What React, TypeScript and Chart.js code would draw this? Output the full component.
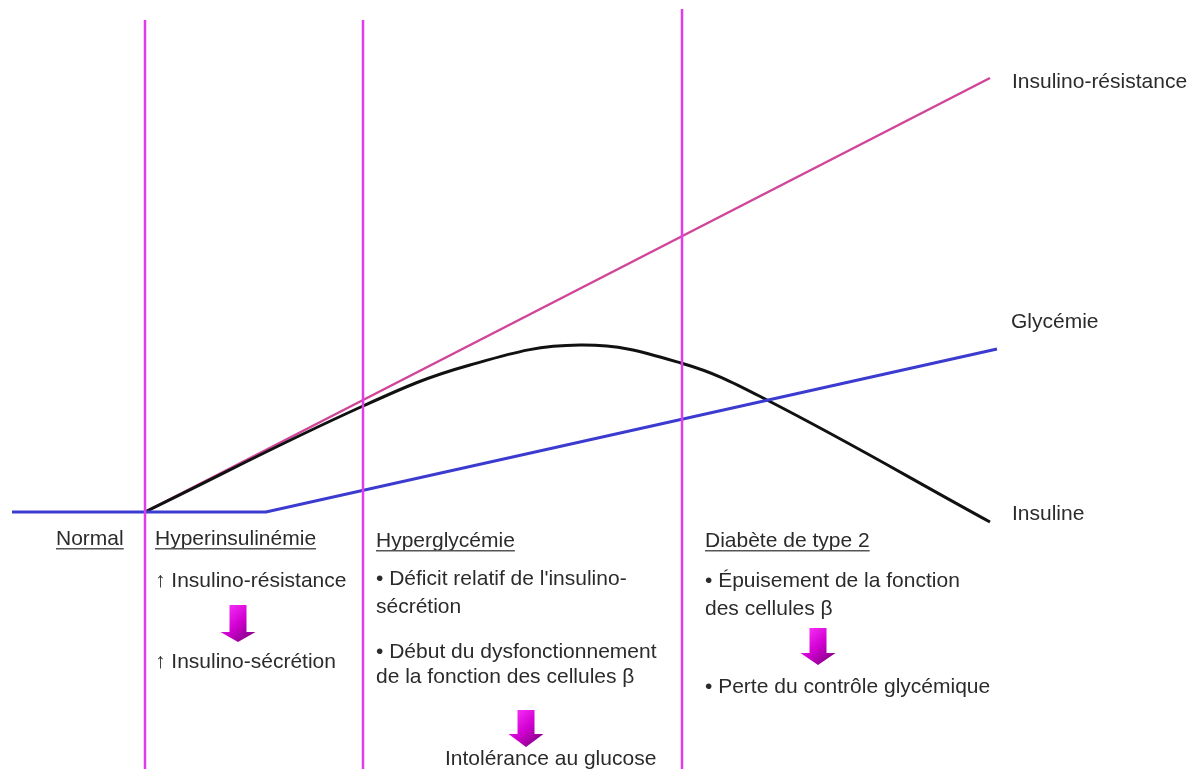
import React, { useEffect, useRef } from "react";
import { Chart, registerables } from "chart.js";

Chart.register(...registerables);

// ---- Data (time in arbitrary units, level in arbitrary units above the normal baseline) ----
const seriesLabels = ["Insulino-résistance", "Glycémie", "Insuline"];

const stageNames = ["Normal", "Hyperinsulinémie", "Hyperglycémie", "Diabète de type 2"];
const stageBoundaries = [14.5, 36.3, 68.2];
const stageBoundaryTops = [98.4, 98.4, 100.6];
const axisBottom = -51.4;

const resistanceTime = [14.5, 99];
const resistanceLevel = [0, 86.8];

const glycemieTime = [1.2, 26.6, 99.7];
const glycemieLevel = [0, 0, 32.6];

const insulineTime = [14.5, 36.3, 47, 58, 68.1, 76.7, 99];
const insulineLevel = [0, 21.2, 29.4, 33.4, 29.8, 22.4, -2];

const normalText = ["Normal"];
const hyperinsulinemieText = ["↑ Insulino-résistance", "↑ Insulino-sécrétion"];
const hyperglycemieText = [
  "• Déficit relatif de l'insulino-",
  "sécrétion",
  "• Début du dysfonctionnement",
  "de la fonction des cellules β",
  "Intolérance au glucose",
];
const diabeteText = ["• Épuisement de la fonction", "des cellules β", "• Perte du contrôle glycémique"];

// ---- Layout of annotations (pixels) ----
const FONT = "21px 'Liberation Sans', Arial, sans-serif";
const TEXT_COLOR = "#2b2b2b";

type TextItem = { text: string; x: number; y: number; underline?: boolean };

const textItems: TextItem[] = [
  { text: normalText[0], x: 56, y: 545, underline: true },
  { text: stageNames[1], x: 155, y: 545, underline: true },
  { text: hyperinsulinemieText[0], x: 155, y: 587 },
  { text: hyperinsulinemieText[1], x: 155, y: 668 },
  { text: stageNames[2], x: 376, y: 547, underline: true },
  { text: hyperglycemieText[0], x: 376, y: 585 },
  { text: hyperglycemieText[1], x: 376, y: 613 },
  { text: hyperglycemieText[2], x: 376, y: 658 },
  { text: hyperglycemieText[3], x: 376, y: 683 },
  { text: hyperglycemieText[4], x: 445, y: 765 },
  { text: stageNames[3], x: 705, y: 547, underline: true },
  { text: diabeteText[0], x: 705, y: 587 },
  { text: diabeteText[1], x: 705, y: 615 },
  { text: diabeteText[2], x: 705, y: 693 },
  { text: seriesLabels[0], x: 1012, y: 88 },
  { text: seriesLabels[1], x: 1011, y: 328 },
  { text: seriesLabels[2], x: 1012, y: 520 },
];

const arrows = [
  { cx: 238, top: 605, neck: 632, bottom: 642 },
  { cx: 526, top: 710, neck: 734, bottom: 747 },
  { cx: 818, top: 628, neck: 653, bottom: 665 },
];

const annotationPlugin = {
  id: "annotations",
  afterDatasetsDraw(chart: any) {
    const ctx: CanvasRenderingContext2D = chart.ctx;
    ctx.save();
    ctx.font = FONT;
    ctx.textBaseline = "alphabetic";
    ctx.textAlign = "left";
    for (const t of textItems) {
      ctx.fillStyle = TEXT_COLOR;
      ctx.fillText(t.text, t.x, t.y);
      if (t.underline) {
        const w = ctx.measureText(t.text).width;
        ctx.fillStyle = "#555";
        ctx.fillRect(t.x, t.y + 3, w, 1.5);
      }
    }
    for (const a of arrows) {
      const rw = 8.5;
      const hw = 17.5;
      const g = ctx.createLinearGradient(a.cx - hw, a.top, a.cx + hw, a.bottom);
      g.addColorStop(0, "#ff3cff");
      g.addColorStop(0.5, "#d200d2");
      g.addColorStop(1, "#6e006e");
      ctx.fillStyle = g;
      ctx.beginPath();
      ctx.moveTo(a.cx - rw, a.top);
      ctx.lineTo(a.cx + rw, a.top);
      ctx.lineTo(a.cx + rw, a.neck);
      ctx.lineTo(a.cx + hw, a.neck);
      ctx.lineTo(a.cx, a.bottom);
      ctx.lineTo(a.cx - hw, a.neck);
      ctx.lineTo(a.cx - rw, a.neck);
      ctx.closePath();
      ctx.fill();
    }
    ctx.restore();
  },
};

function pts(xs: number[], ys: number[]) {
  return xs.map((x, i) => ({ x, y: ys[i] }));
}

export default function App() {
  const ref = useRef<HTMLCanvasElement | null>(null);
  useEffect(() => {
    if (!ref.current) return;
    const boundaryDatasets = stageBoundaries.map((b, i) => ({
      label: "boundary" + i,
      data: [
        { x: b, y: stageBoundaryTops[i] },
        { x: b, y: axisBottom },
      ],
      borderColor: "#e03cec",
      borderWidth: 2.5,
      pointRadius: 0,
      tension: 0,
    }));
    const chart = new Chart(ref.current, {
      type: "line",
      data: {
        datasets: [
          ...boundaryDatasets,
          {
            label: seriesLabels[1],
            data: pts(glycemieTime, glycemieLevel),
            borderColor: "#3b3bd0",
            borderWidth: 3,
            pointRadius: 0,
            tension: 0,
          },
          {
            label: seriesLabels[2],
            data: pts(insulineTime, insulineLevel),
            borderColor: "#111111",
            borderWidth: 3,
            pointRadius: 0,
            tension: 0.4,
          },
          {
            label: seriesLabels[0],
            data: pts(resistanceTime, resistanceLevel),
            borderColor: "#d0449a",
            borderWidth: 2.5,
            pointRadius: 0,
            tension: 0,
          },
        ],
      },
      options: {
        animation: false,
        responsive: false,
        events: [],
        layout: { padding: 0 },
        plugins: { legend: { display: false }, tooltip: { enabled: false }, title: { display: false } },
        scales: {
          x: { type: "linear", min: 0, max: 120, display: false },
          y: { type: "linear", min: axisBottom, max: 102.4, display: false },
        },
      },
      plugins: [annotationPlugin],
    } as any);
    return () => chart.destroy();
  }, []);
  return (
    <div style={{ position: "absolute", left: 0, top: 0, width: 1200, height: 769, background: "#fff" }}>
      <canvas ref={ref} width={1200} height={769} style={{ display: "block" }} />
    </div>
  );
}
